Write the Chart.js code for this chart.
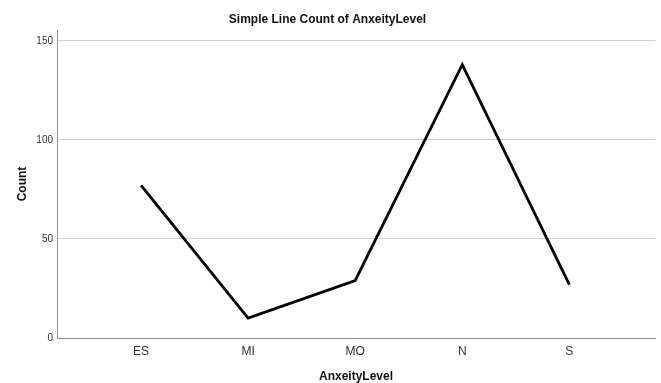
<!DOCTYPE html>
<html><head><meta charset="utf-8">
<script src="https://cdn.jsdelivr.net/npm/chart.js@4/dist/chart.umd.min.js"></script>
<style>html,body{margin:0;padding:0;background:#fff}#wrap{width:661px;height:383px}</style>
</head><body><div id="wrap"><canvas id="c" width="661" height="383"></canvas></div>
<script>
const categories = ["ES", "MI", "MO", "N", "S"];
const counts = [77, 10, 29, 138, 27];
const yTicks = [0, 50, 100, 150];

const points = categories.map((c, i) => ({x: i, y: counts[i]}));
const FONT = "'Liberation Sans', Arial, sans-serif";

new Chart(document.getElementById('c'), {
  type: 'line',
  data: { datasets: [{ data: points, borderColor: '#000', borderWidth: 2.8, pointRadius: 0, fill: false, tension: 0 }] },
  options: {
    responsive: false, animation: false, devicePixelRatio: 1,
    layout: { padding: { top: 0, right: 6, bottom: 0, left: 0 } },
    plugins: {
      legend: { display: false }, tooltip: { enabled: false },
      title: { display: true, text: 'Simple Line Count of AnxeityLevel', color: '#111',
        font: { family: FONT, size: 12, weight: 'bold' }, padding: { top: 12, bottom: 3.6 } }
    },
    scales: {
      x: {
        type: 'linear', min: -0.785, max: 4.8,
        afterBuildTicks: s => { s.ticks = categories.map((c, i) => ({ value: i })); },
        ticks: { callback: (v) => categories[v], color: '#333', font: { family: FONT, size: 12 }, padding: 6, autoSkip: false, maxRotation: 0 },
        grid: { display: false, drawTicks: false },
        border: { display: true, color: '#8c8c8c', width: 1 },
        title: { display: true, text: 'AnxeityLevel', color: '#111', font: { family: FONT, size: 12, weight: 'bold', lineHeight: 0.95 }, padding: { top: 0, bottom: 1 } },
        afterFit: s => { s.height = 45; }
      },
      y: {
        min: 0, max: 155.5,
        afterBuildTicks: s => { s.ticks = yTicks.map(v => ({ value: v })); },
        ticks: { color: '#333', font: { family: FONT, size: 10 }, padding: 4 },
        grid: { color: (ctx) => ctx.tick && ctx.tick.value === 0 ? 'rgba(0,0,0,0)' : '#cfcfcf', drawTicks: false, lineWidth: 1 },
        border: { display: true, color: '#8c8c8c', width: 1 },
        title: { display: true, text: 'Count', color: '#111', font: { family: FONT, size: 12, weight: 'bold' }, padding: { top: 15, bottom: 0 } },
        afterFit: s => { s.width = 57; }
      }
    }
  }
});
</script></body></html>
